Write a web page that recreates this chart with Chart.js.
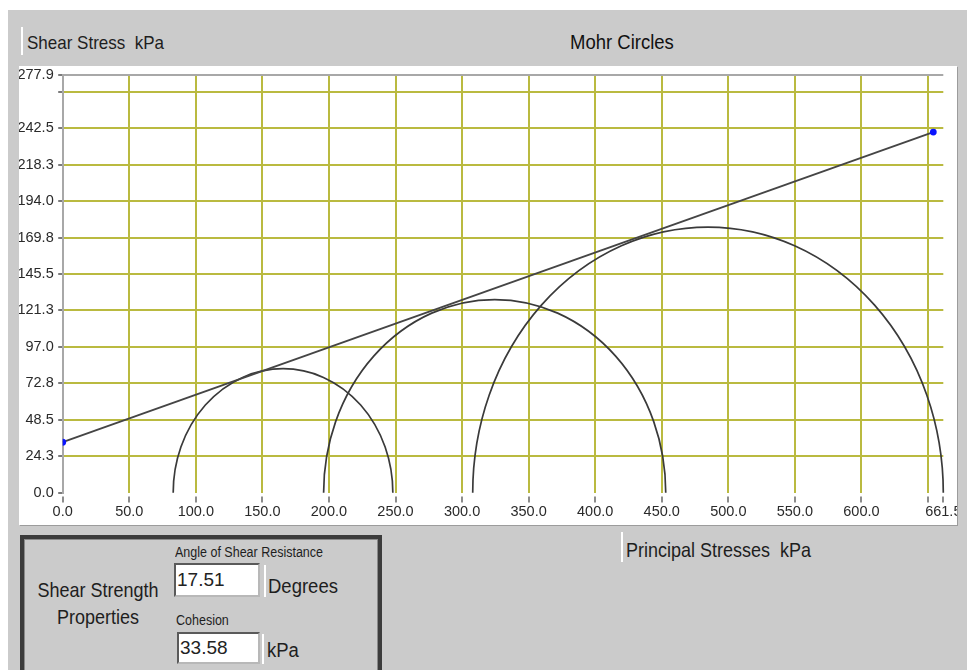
<!DOCTYPE html>
<html>
<head>
<meta charset="utf-8">
<title>Mohr Circles</title>
<script src="https://cdn.jsdelivr.net/npm/chart.js@4.4.0/dist/chart.umd.min.js"></script>
<style>
  html, body { margin: 0; padding: 0; width: 967px; height: 670px; overflow: hidden; background: #fff;
    font-family: "Liberation Sans", Arial, sans-serif; }
  #panel { position: absolute; left: 8px; top: 10px; width: 959px; height: 660px; background: #cbcbcb; }
  .lbl { position: absolute; white-space: pre; color: #1e1e1e; line-height: 1;
    transform: scaleY(1.12); transform-origin: 0 0; }
  .bar { position: absolute; width: 2px; background: #fff; }
  #plot { position: absolute; left: 19px; top: 66px; width: 938px; height: 459px; background: #fff;
    overflow: hidden; box-shadow: 1px 1px 0 #9c9c9c; }
  #plot canvas { display: block; }
  #props { position: absolute; left: 20px; top: 535px; width: 354px; height: 150px;
    border: 4px solid #3c3c3c; box-shadow: inset 0 0 0 1px #8a8a8a; }
  .field { position: absolute; background: #fff; border: 2px solid; border-color: #5a5a5a #b8b8b8 #b8b8b8 #5a5a5a;
    box-sizing: border-box; font-size: 19px; color: #222; padding: 0 0 0 1px; white-space: pre; }
</style>
</head>
<body>
<div id="panel"></div>

<div class="bar" style="left:21px;top:27px;height:28px;"></div>
<div class="lbl" style="left:27px;top:33px;font-size:17px;">Shear Stress  kPa</div>
<div class="lbl" style="left:570px;top:32px;font-size:18.5px;color:#111;">Mohr Circles</div>

<div id="plot"><canvas id="chart" width="938" height="459"></canvas></div>

<div class="bar" style="left:621px;top:532px;height:30px;"></div>
<div class="lbl" style="left:626px;top:540px;font-size:18px;">Principal Stresses  kPa</div>

<div id="props"></div>
<div class="lbl" style="left:26px;top:577px;width:144px;text-align:center;font-size:18px;line-height:24px;">Shear Strength
Properties</div>
<div class="lbl" style="left:175px;top:546px;font-size:12.5px;">Angle of Shear Resistance</div>
<div class="field" style="left:174px;top:563px;width:86px;height:34px;line-height:30px;">17.51</div>
<div class="bar" style="left:264px;top:565px;height:32px;"></div>
<div class="lbl" style="left:268px;top:576px;font-size:18.5px;">Degrees</div>
<div class="lbl" style="left:176px;top:614px;font-size:12.5px;">Cohesion</div>
<div class="field" style="left:177px;top:632px;width:83px;height:32px;line-height:28px;">33.58</div>
<div class="bar" style="left:262px;top:634px;height:30px;"></div>
<div class="lbl" style="left:267px;top:640px;font-size:18.5px;">kPa</div>

<script>
// Triaxial test results: minor and major principal stresses at failure (kPa)
const sigmaMinor = [83, 196, 308];
const sigmaMajor = [248, 453, 661.5];

// Fitted strength parameters
const cohesion = 33.58;        // kPa
const frictionAngle = 17.51;   // degrees

// Extent of the drawn failure envelope along the normal-stress axis
const envelopeX = [0, 654];

// Axis ticks and their labels
const xTickValues = [0, 50, 100, 150, 200, 250, 300, 350, 400, 450, 500, 550, 600, 650, 661.5];
const xTickLabels = ['0.0', '50.0', '100.0', '150.0', '200.0', '250.0', '300.0', '350.0', '400.0',
                     '450.0', '500.0', '550.0', '600.0', '', '661.5'];
const yTickValues = [0, 24.25, 48.5, 72.75, 97, 121.25, 145.5, 169.75, 194, 218.25, 242.5, 266.75, 277.9];
const yTickLabels = ['0.0', '24.3', '48.5', '72.8', '97.0', '121.3', '145.5', '169.8', '194.0',
                     '218.3', '242.5', '', '277.9'];

const X_MAX = 661.5;
const Y_MAX = 277.9;

const tanPhi = Math.tan(frictionAngle * Math.PI / 180);
const envelope = envelopeX.map(x => ({ x: x, y: cohesion + x * tanPhi }));

const GRID = '#baba40';
const FRAME = '#a8a8a8';
const TICK = '#505050';

// Draws each Mohr circle as the upper half of a circle in data space
const mohrCircles = {
  id: 'mohrCircles',
  beforeDatasetsDraw(chart) {
    const { ctx, scales } = chart;
    const xs = scales.x, ys = scales.y;
    ctx.save();
    ctx.strokeStyle = '#3a3a3a';
    ctx.lineWidth = 1.7;
    sigmaMinor.forEach((s3, i) => {
      const s1 = sigmaMajor[i];
      const centre = (s1 + s3) / 2;
      const radius = (s1 - s3) / 2;
      const cx = xs.getPixelForValue(centre);
      const cy = ys.getPixelForValue(0);
      const rx = xs.getPixelForValue(centre + radius) - cx;
      const ry = cy - ys.getPixelForValue(radius);
      ctx.beginPath();
      ctx.ellipse(cx, cy, rx, ry, 0, Math.PI, 2 * Math.PI);
      ctx.stroke();
    });
    ctx.restore();
  }
};

const tickFont = { family: 'Liberation Sans', size: 14.5 };

new Chart(document.getElementById('chart'), {
  type: 'scatter',
  data: {
    datasets: [{
      label: 'Failure envelope',
      data: envelope,
      showLine: true,
      borderColor: '#454545',
      borderWidth: 1.9,
      pointRadius: 3.4,
      pointBackgroundColor: '#0a14ff',
      pointBorderColor: '#0a14ff',
      pointBorderWidth: 0
    }]
  },
  plugins: [mohrCircles],
  options: {
    responsive: false,
    animation: false,
    devicePixelRatio: 1,
    events: [],
    layout: { padding: { left: 0, top: 9, right: 13.7, bottom: 0 } },
    plugins: { legend: { display: false }, tooltip: { enabled: false }, title: { display: false } },
    scales: {
      x: {
        type: 'linear',
        min: 0,
        max: X_MAX,
        afterBuildTicks: s => { s.ticks = xTickValues.map(v => ({ value: v })); },
        afterFit: s => { s.height = 32.3; s.paddingLeft = 0; s.paddingRight = 0; },
        border: { display: false },
        grid: {
          color: c => (c.tick && (c.tick.value === 0 || c.tick.value === X_MAX)) ? 'rgba(0,0,0,0)' : GRID,
          lineWidth: 2,
          drawTicks: true,
          tickLength: 10,
          tickColor: TICK,
          tickWidth: 1.3,
          tickBorderDash: [0, 3.5, 6, 30]
        },
        ticks: {
          autoSkip: false,
          maxRotation: 0,
          padding: 1,
          color: '#2a2a2a',
          font: tickFont,
          callback: (v, i) => xTickLabels[i]
        }
      },
      y: {
        type: 'linear',
        min: 0,
        max: Y_MAX,
        afterBuildTicks: s => { s.ticks = yTickValues.map(v => ({ value: v })); },
        afterFit: s => { s.width = 43.7; s.paddingTop = 0; s.paddingBottom = 0; },
        border: { display: true, color: FRAME, width: 2 },
        grid: {
          color: c => {
            if (!c.tick) return GRID;
            if (c.tick.value === Y_MAX) return FRAME;
            if (c.tick.value === 0) return 'rgba(0,0,0,0)';
            return GRID;
          },
          lineWidth: 2,
          drawTicks: true,
          tickLength: 7,
          tickColor: TICK,
          tickWidth: 1.3,
          tickBorderDash: [0, 2.5, 4.5, 30]
        },
        ticks: {
          autoSkip: false,
          padding: 2,
          color: '#2a2a2a',
          font: tickFont,
          callback: (v, i) => yTickLabels[i]
        }
      }
    }
  }
});
</script>
</body>
</html>
